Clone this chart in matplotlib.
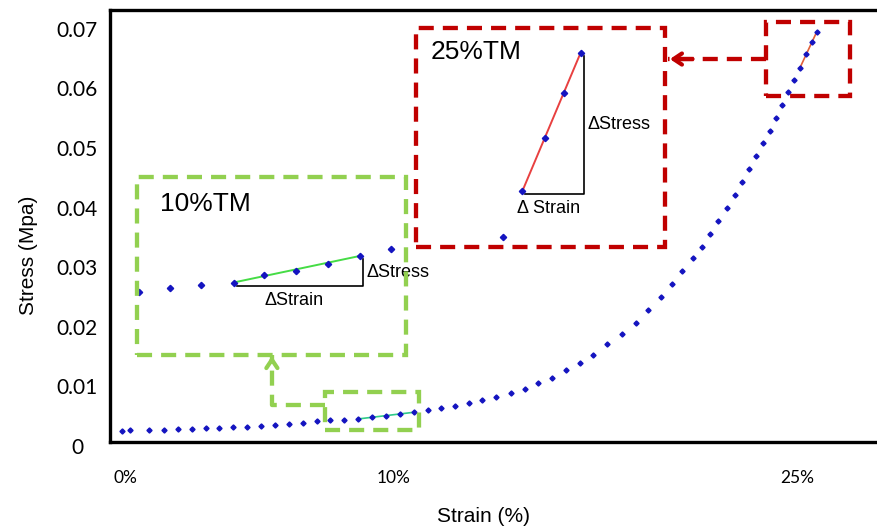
import matplotlib.pyplot as plt
from matplotlib.patches import Rectangle
from matplotlib.transforms import ScaledTranslation

# Stress-strain curve (strain in %, stress in MPa)
strain = [-0.12, 0.19, 0.90, 1.45, 1.96, 2.48, 3.00, 3.49, 4.00, 4.52,
          5.06, 5.58, 6.10, 6.61, 7.12, 7.62, 8.14, 8.67, 9.17, 9.70,
          10.22, 10.74, 11.25, 11.75, 12.27, 12.79, 13.28, 13.80, 14.34, 14.86,
          15.36, 15.88, 16.39, 16.91, 17.41, 17.93, 18.48, 18.99, 19.45, 19.91,
          20.35, 20.72, 21.10, 21.45, 21.75, 22.06, 22.37, 22.68, 22.94, 23.21,
          23.46, 23.72, 23.96, 24.20, 24.43, 24.65, 24.88, 25.09, 25.33, 25.53,
          25.71]
stress = [0.00290, 0.00302, 0.00302, 0.00307, 0.00314, 0.00324, 0.00331, 0.00341, 0.00352, 0.00357,
          0.00374, 0.00391, 0.00408, 0.00424, 0.00448, 0.00465, 0.00475, 0.00487, 0.00520, 0.00537,
          0.00565, 0.00599, 0.00629, 0.00663, 0.00705, 0.00750, 0.00805, 0.00861, 0.00923, 0.00995,
          0.01091, 0.01180, 0.01309, 0.01431, 0.01565, 0.01740, 0.01908, 0.02102, 0.02315, 0.02539,
          0.02752, 0.02965, 0.03183, 0.03378, 0.03596, 0.03814, 0.04027, 0.04245, 0.04458, 0.04676,
          0.04894, 0.05117, 0.05327, 0.05542, 0.05750, 0.05968, 0.06180, 0.06381, 0.06611, 0.06807,
          0.06980]

y_ticks = [0, 0.01, 0.02, 0.03, 0.04, 0.05, 0.06, 0.07]
y_tick_labels = ['0', '0.01', '0.02', '0.03', '0.04', '0.05', '0.06', '0.07']
x_ticks = [0, 10, 25]
x_tick_labels = ['0%', '10%', '25%']

# index ranges of the points used for the tangent modulus at 10% and 25%
fit_10 = (17, 21)
fit_25 = (57, 60)

# selection windows on the curve: (strain0, strain1, stress0, stress1)
window_10 = (7.43, 10.94, 0.0030, 0.0094)
window_25 = (23.83, 26.95, 0.0591, 0.0715)

DOT = '#1414C0'
GREEN = '#92D050'
RED = '#C00000'
DASH = (0, (3.5, 2.1))
SANS = ['Liberation Sans', 'DejaVu Sans']

fig = plt.figure(figsize=(8.78, 5.31), dpi=100)
ax = fig.add_axes([110 / 878, 89 / 531, 768 / 878, 432 / 531])
ax.set_xlim(-0.558, 27.99)
ax.set_ylim(0.001, 0.0735)

ax.plot(strain, stress, ls='none', marker='D', ms=2.6, color=DOT)
i, j = fit_10
ax.plot(strain[i:j + 1:j - i], stress[i:j + 1:j - i], color='#2FCB8A', lw=1.2, zorder=1)
i, j = fit_25
ax.plot(strain[i:j + 1:j - i], stress[i:j + 1:j - i], color='#E0603A', lw=1.2, zorder=1)

ax.spines['right'].set_visible(False)
for side in ['left', 'top', 'bottom']:
    ax.spines[side].set_linewidth(2.4)
ax.set_xticks([])
ax.set_yticks([])

for v, lab in zip(y_ticks, y_tick_labels):
    ax.text(-33 / 768, v, lab, transform=ax.get_yaxis_transform(), ha='center', va='center',
            fontsize=15, family=['Lato', 'DejaVu Sans'], clip_on=False)
for v, lab in zip(x_ticks, x_tick_labels):
    ax.text(v, -36 / 432, lab, transform=ax.get_xaxis_transform(), ha='center', va='center',
            fontsize=12.5, family=['Lato', 'DejaVu Sans'], clip_on=False)

fig.text(28 / 878, 1 - 255 / 531, 'Stress (Mpa)', rotation=90, ha='center', va='center',
         fontsize=15, family=SANS)
fig.text(484 / 878, 1 - 517 / 531, 'Strain (%)', ha='center', va='center',
         fontsize=15, family=SANS)


def dashed_box(target, x0, x1, y0, y1, color, transform=None):
    target.add_patch(Rectangle((x0, y0), x1 - x0, y1 - y0, fill=False, ec=color, lw=3.1,
                               ls=DASH, clip_on=False, zorder=5,
                               transform=transform if transform is not None else target.transData))


def zoom_inset(bounds, xlim, ylim, fit, color, line_color, title, title_pos, strain_text):
    ins = ax.inset_axes(bounds, transform=ax.transData)
    ins.set_xlim(*xlim)
    ins.set_ylim(*ylim)
    ins.set_xticks([])
    ins.set_yticks([])
    for s in ins.spines.values():
        s.set_visible(False)
    ins.plot(strain, stress, ls='none', marker='D', ms=3.2, color=DOT, zorder=3)
    a, b = fit
    ins.plot([strain[a], strain[b]], [stress[a], stress[b]], color=line_color, lw=1.4, zorder=2)
    shift = ins.transData + ScaledTranslation(3 / 100, -3 / 100, fig.dpi_scale_trans)
    ins.plot([strain[a], strain[b], strain[b]], [stress[a], stress[a], stress[b]],
             color='black', lw=1.2, transform=shift, zorder=1)
    ins.annotate(strain_text, ((strain[a] + strain[b]) / 2, stress[a]), xytext=(-2, -13),
                 textcoords='offset points', ha='center', va='center', fontsize=13, family=SANS)
    ins.annotate('ΔStress', (strain[b], (stress[a] + stress[b]) / 2), xytext=(5, -2),
                 textcoords='offset points', ha='left', va='center', fontsize=13, family=SANS,
                 annotation_clip=False)
    ins.text(*title_pos, title, transform=ins.transAxes, ha='left', va='center', fontsize=19,
             family=SANS)
    dashed_box(ins, 0, 1, 0, 1, color, transform=ins.transAxes)
    return ins


zoom_inset([0.457, 0.0156, 9.99, 0.0299], (7.09, 11.50), (0.00181, 0.00933), fit_10,
           GREEN, '#45DC45', '10%TM', (0.085, 0.845), 'ΔStrain')
zoom_inset([10.82, 0.0338, 9.25, 0.0366], (23.955, 26.61), (0.06139, 0.07086), fit_25,
           RED, '#E84040', '25%TM', (0.06, 0.89), 'Δ Strain')

# selection windows on the main curve
dashed_box(ax, *window_10, GREEN)
dashed_box(ax, *window_25, RED)

# connectors from the windows to their insets
x0, x1, y0, y1 = window_10
mid_y = y0 + 0.66 * (y1 - y0)
ax.plot([x0, 5.46, 5.46], [mid_y, mid_y, 0.0166], color=GREEN, lw=3.1, ls=DASH,
        clip_on=False, zorder=5, solid_capstyle='butt')
ax.annotate('', (5.46, 0.0159), xytext=(5.46, 0.0140),
            arrowprops=dict(arrowstyle='->,head_length=0.6,head_width=0.4', color=GREEN, lw=3))

x0, x1, y0, y1 = window_25
mid_y = 0.06527
ax.plot([x0, 20.2], [mid_y, mid_y], color=RED, lw=3.1, ls=DASH, clip_on=False, zorder=5)
ax.annotate('', (20.15, mid_y), xytext=(21.2, mid_y),
            arrowprops=dict(arrowstyle='->,head_length=0.6,head_width=0.4', color=RED, lw=3))

fig.savefig('out.png', dpi=100)
